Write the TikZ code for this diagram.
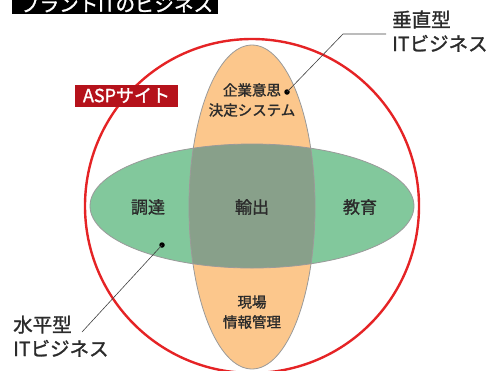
\documentclass[tikz,border=0pt]{standalone}
\usepackage{fontspec}
\setmainfont{Noto Sans CJK JP}[FakeBold=1.4]
\definecolor{ringred}{HTML}{E52325}
\definecolor{labred}{HTML}{B5121B}
\definecolor{green1}{HTML}{82C89C}
\definecolor{orange1}{HTML}{FCC78C}
\definecolor{mix1}{HTML}{88A08A}
\definecolor{txt}{HTML}{2B2B2B}
\definecolor{edge}{HTML}{9A9A9A}
\begin{document}
\begin{tikzpicture}[x=1pt,y=-1pt,
  inner/.style={text=txt, align=center, font=\fontsize{14.5}{20}\selectfont},
  big/.style={text=txt, font=\fontsize{17}{20}\selectfont},
  side/.style={text=txt, align=left, font=\fontsize{19.5}{24}\selectfont, inner sep=0pt},
  dot/.style={circle, fill=black, inner sep=0pt, minimum size=5.5pt},
  leader/.style={draw=black!75, line width=0.6pt}]
\useasboundingbox (0,0) rectangle (494,370);
\clip (0,0) rectangle (494,370);
% title
\fill[black] (12,-10) rectangle (218,14.3);
\node[text=white, anchor=base west, inner sep=0pt, font=\fontsize{19.5}{20}\selectfont] (title) at (20,11.5) {プラントITのビジネス};
% ring
\draw[ringred, line width=2.4pt] (252,206) circle (167pt);
% ellipses
\fill[green1] (252,206) ellipse [x radius=162pt, y radius=62pt];
\fill[orange1] (252,207) ellipse [x radius=63pt, y radius=162pt];
\begin{scope}
  \clip (252,207) ellipse [x radius=63pt, y radius=162pt];
  \fill[mix1] (252,206) ellipse [x radius=162pt, y radius=62pt];
\end{scope}
\draw[edge, line width=0.8pt] (252,206) ellipse [x radius=162pt, y radius=62pt];
\draw[edge, line width=0.8pt] (252,207) ellipse [x radius=63pt, y radius=162pt];
% ASP label
\node[fill=labred, text=white, minimum width=103pt, minimum height=22pt, inner sep=0pt, font=\fontsize{18}{18}\selectfont] (asp) at (126.5,95.5) {ASPサイト};
% inner texts
\node[inner] (kigyo) at (252,100) {企業意思\\決定システム};
\node[big] (chotatsu) at (148,207) {調達};
\node[big] (yushutsu) at (252,207) {輸出};
\node[big] (kyoiku) at (360,207) {教育};
\node[inner] (genba) at (252,312) {現場\\情報管理};
% side labels
\node[side, anchor=base west] (suichoku) at (392,51) {垂直型\\ITビジネス};
\node[side, anchor=base west] (suihei) at (13,356) {水平型\\ITビジネス};
% leaders
\node[dot] (d1) at (287,92) {};
\node[dot] (d2) at (162,245) {};
\coordinate (k1) at (343,34);
\coordinate (e1) at (386,34);
\coordinate (e2) at (82,332);
\draw[leader] (d1.center) -- (k1) -- (e1);
\draw[leader] (d2.center) -- (e2);
\end{tikzpicture}
\end{document}
